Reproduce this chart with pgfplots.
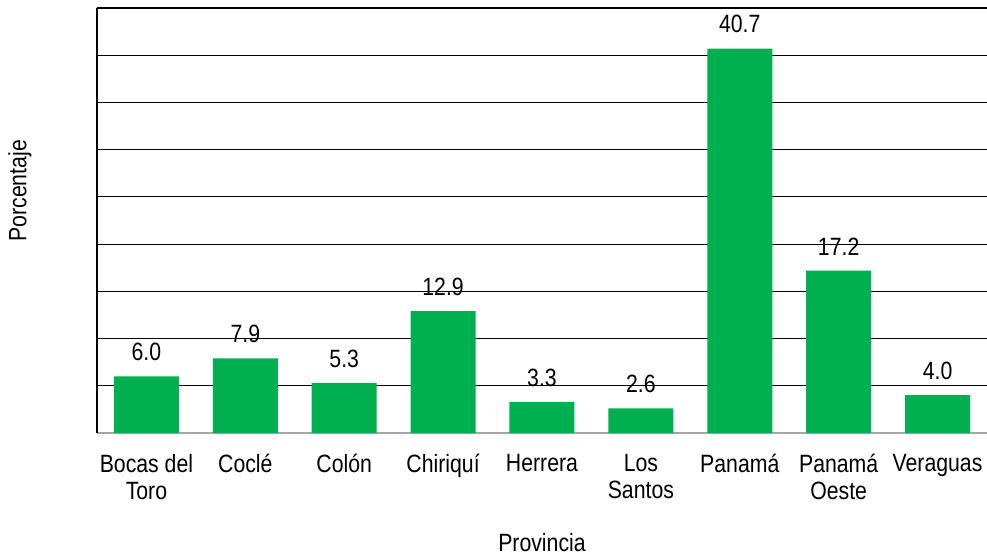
\documentclass[border=0pt]{standalone}
\usepackage{fontspec}
\setmainfont{Liberation Sans}[FakeStretch=0.85]
\usepackage{pgfplots}
\pgfplotsset{compat=1.18}
\definecolor{bargreen}{RGB}{0,176,80}
\begin{document}
\begin{tikzpicture}
\begin{axis}[
  scale only axis,
  width=890bp, height=425bp,
  xmin=-0.5, xmax=8.5,
  ymin=0, ymax=45,
  ytick={5,10,...,45},
  yticklabels={},
  ymajorgrids,
  grid style={black, line width=1.2pt},
  axis lines=left,
  axis line style={-},
  x axis line style={gray!70, line width=1.4pt},
  y axis line style={black, line width=1.6pt},
  major tick length=0pt,
  xtick=data,
  xticklabels={{Bocas del\\Toro},{Coclé},{Colón},{Chiriquí},{Herrera},{Los\\Santos},{Panamá},{Panamá\\Oeste},{Veraguas}},
  xticklabel style={align=center, font=\fontsize{25bp}{27bp}\selectfont, yshift=-18bp},
  xlabel={Provincia},
  xlabel style={font=\fontsize{25bp}{27bp}\selectfont, at={(axis description cs:0.5,0)}, anchor=center, yshift=-110bp},
  ylabel={Porcentaje},
  ylabel style={font=\fontsize{25bp}{27bp}\selectfont, at={(axis description cs:-0.0865,0.57)}, anchor=center},
  ybar,
  bar width=65bp,
  nodes near coords,
  nodes near coords style={font=\fontsize{25bp}{27bp}\selectfont, /pgf/number format/.cd, fixed, fixed zerofill, precision=1, assume math mode=true, /tikz/.cd, yshift=12bp},
]
\addplot[fill=bargreen, draw=none] coordinates {
 (0,6.0) (1,7.9) (2,5.3) (3,12.9) (4,3.3) (5,2.6) (6,40.7) (7,17.2) (8,4.0)};
\end{axis}
\pgfresetboundingbox
\path (-97bp,-126bp) rectangle (890bp,433bp);
\end{tikzpicture}
\end{document}
